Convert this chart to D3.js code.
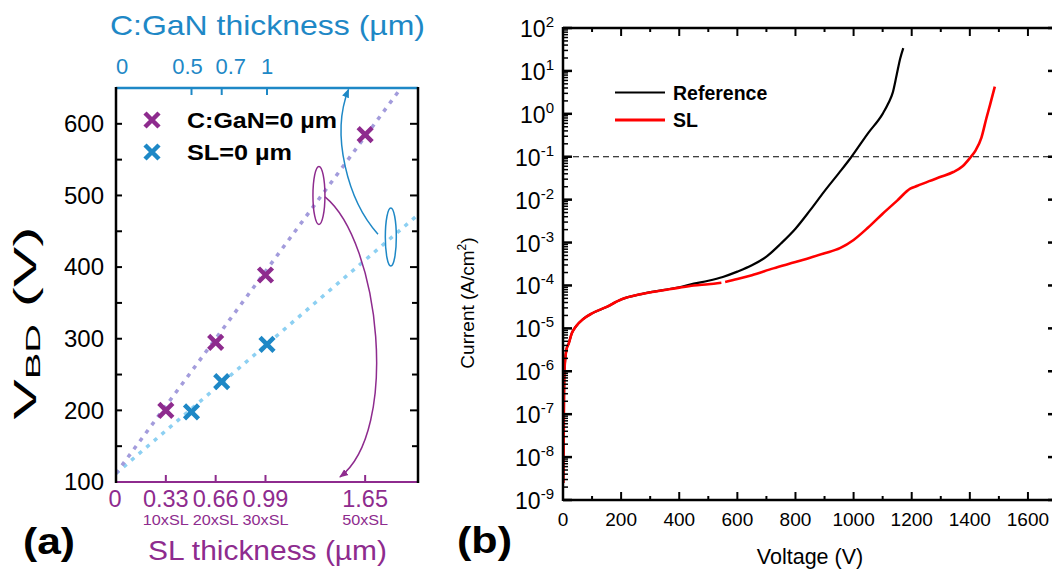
<!DOCTYPE html>
<html><head><meta charset="utf-8">
<script src="https://cdn.jsdelivr.net/npm/d3@7"></script>
<style>
body{margin:0;background:#fff}
svg text{font-family:"Liberation Sans",Arial,sans-serif}
</style>
</head><body>
<svg id="c" width="1052" height="571"></svg>
<script>
// ---------------- Panel (a) data ----------------
const slTicks = [0, 0.33, 0.66, 0.99, 1.65];
const slTickLabels = ["0", "0.33", "0.66", "0.99", "1.65"];
const slSubTicks = [0.33, 0.66, 0.99, 1.65];
const slSubLabels = ["10xSL", "20xSL", "30xSL", "50xSL"];
const cganTicks = [0, 0.5, 0.7, 1];
const cganTickLabels = ["0", "0.5", "0.7", "1"];
const vbdTicks = [100, 200, 300, 400, 500, 600];
const vbdMinorTicks = [150, 250, 350, 450, 550, 650];
// C:GaN = 0 µm series (x = SL thickness)
const cgan0X = [0.33, 0.66, 0.99, 1.65];
const cgan0V = [200, 295, 389, 585];
// SL = 0 µm series (x = C:GaN thickness)
const sl0X = [0.5, 0.7, 1.0];
const sl0V = [198, 240, 292];
// dotted guide lines (endpoints)
const fitCgan0 = [[0, 112], [2, 682]];
const fitSl0 = [[0, 112], [2, 473]];

// ---------------- Panel (b) data ----------------
const voltageTicks = [0, 200, 400, 600, 800, 1000, 1200, 1400, 1600];
const voltageMinor = [100, 300, 500, 700, 900, 1100, 1300, 1500, 1700];
const decadeExps = [-9, -8, -7, -6, -5, -4, -3, -2, -1, 0, 1, 2];
const thresholdCurrent = 0.1;
// Reference device (black)
const refV = [1, 1.5, 2.5, 3.5, 5, 8, 12, 20, 30, 45, 70, 100, 150, 200, 270, 350, 400, 450, 500, 550, 600, 650, 700, 750, 800, 850, 900, 950, 993, 1050, 1100, 1120, 1135, 1148, 1160, 1171];
const refI = [2.5e-9, 4e-9, 3.2e-8, 2.5e-7, 1e-6, 2.0e-6, 3.2e-6, 4.5e-6, 7.6e-6, 1.12e-5, 1.66e-5, 2.24e-5, 3.16e-5, 4.7e-5, 6.3e-5, 7.9e-5, 9.1e-5, 1.1e-4, 1.29e-4, 1.58e-4, 2.1e-4, 2.95e-4, 4.7e-4, 9.5e-4, 2.1e-3, 5.6e-3, 1.58e-2, 4.2e-2, 0.1, 0.355, 1.0, 1.78, 3.16, 7.9, 19, 34];
// SL device (red); null = small gap in the measured trace
const slV = [1, 1.5, 2.5, 3.5, 5, 8, 12, 20, 30, 45, 70, 100, 150, 200, 270, 350, 400, 450, 500, 545, 551, 558, 600, 650, 724, 800, 840, 900, 953, 1000, 1050, 1100, 1150, 1195, 1220, 1260, 1300, 1343, 1375, 1400, 1420, 1440, 1457, 1470, 1486];
const slI = [2.5e-9, 4e-9, 3.2e-8, 2.5e-7, 1e-6, 2.0e-6, 3.2e-6, 4.5e-6, 7.6e-6, 1.12e-5, 1.66e-5, 2.24e-5, 3.16e-5, 4.7e-5, 6.3e-5, 7.8e-5, 8.9e-5, 1.0e-4, 1.07e-4, 1.16e-4, null, 1.2e-4, 1.41e-4, 1.74e-4, 2.5e-4, 3.5e-4, 4.2e-4, 5.6e-4, 7.4e-4, 1.15e-3, 2.24e-3, 4.7e-3, 9.5e-3, 1.8e-2, 2.1e-2, 2.7e-2, 3.4e-2, 4.4e-2, 6.0e-2, 9.3e-2, 0.141, 0.28, 0.79, 1.66, 4.3];

// ---------------- drawing ----------------
const PURPLE = "#8E2B8E", BLUE = "#1E88C6", LAV = "#A39CDC", LBLUE = "#8DD0F2";
const svg = d3.select("#c");
const defs = svg.append("defs");
defs.append("clipPath").attr("id", "clipA").append("rect")
  .attr("x", 116).attr("y", 88).attr("width", 302).attr("height", 394);
defs.append("clipPath").attr("id", "clipB").append("rect")
  .attr("x", 563).attr("y", 20).attr("width", 494).attr("height", 480);
function arrowMarker(id, color) {
  defs.append("marker").attr("id", id).attr("viewBox", "0 0 10 10")
    .attr("refX", 9).attr("refY", 5).attr("markerWidth", 9).attr("markerHeight", 9)
    .attr("markerUnits", "userSpaceOnUse").attr("orient", "auto")
    .append("path").attr("d", "M0,1L10,5L0,9Z").attr("fill", color);
}
arrowMarker("arP", PURPLE);
arrowMarker("arB", BLUE);

// ===== Panel (a) =====
const xa = d3.scaleLinear().domain([0, 2]).range([116, 418]);
const ya = d3.scaleLinear().domain([100, 650]).range([482, 88]);
const ga = svg.append("g");
const lineA = d3.line().x(d => xa(d[0])).y(d => ya(d[1]));

ga.append("path").attr("d", lineA(fitSl0)).attr("fill", "none")
  .attr("stroke", LBLUE).attr("stroke-width", 3.5).attr("stroke-dasharray", "4 6")
  .attr("clip-path", "url(#clipA)");
ga.append("path").attr("d", lineA(fitCgan0)).attr("fill", "none")
  .attr("stroke", LAV).attr("stroke-width", 3.5).attr("stroke-dasharray", "4 6")
  .attr("clip-path", "url(#clipA)");

// annotations (in data units)
ga.append("ellipse").attr("cx", xa(1.344)).attr("cy", ya(500)).attr("rx", 6).attr("ry", 29)
  .attr("fill", "none").attr("stroke", PURPLE).attr("stroke-width", 1.5);
ga.append("ellipse").attr("cx", xa(1.82)).attr("cy", ya(442)).attr("rx", 5.5).attr("ry", 29)
  .attr("fill", "none").attr("stroke", BLUE).attr("stroke-width", 1.5);
ga.append("path").attr("fill", "none").attr("stroke", PURPLE).attr("stroke-width", 1.5)
  .attr("marker-end", "url(#arP)")
  .attr("d", `M${xa(1.384)},${ya(498)} C${xa(1.75)},${ya(435)} ${xa(1.88)},${ya(171)} ${xa(1.483)},${ya(107)}`);
ga.append("path").attr("fill", "none").attr("stroke", BLUE).attr("stroke-width", 1.5)
  .attr("marker-end", "url(#arB)")
  .attr("d", `M${xa(1.735)},${ya(446)} C${xa(1.535)},${ya(493)} ${xa(1.42)},${ya(585)} ${xa(1.54)},${ya(648)}`);

function cross(g, cx, cy, color) {
  g.append("path").attr("d", `M${cx - 7},${cy - 7}L${cx + 7},${cy + 7}M${cx - 7},${cy + 7}L${cx + 7},${cy - 7}`)
    .attr("stroke", color).attr("stroke-width", 4.5).attr("fill", "none");
}
cgan0X.forEach((x, i) => cross(ga, xa(x), ya(cgan0V[i]), PURPLE));
sl0X.forEach((x, i) => cross(ga, xa(x), ya(sl0V[i]), BLUE));

// frame
ga.append("line").attr("x1", 116).attr("x2", 418).attr("y1", 482).attr("y2", 482).attr("stroke", PURPLE).attr("stroke-width", 2);
ga.append("line").attr("x1", 116).attr("x2", 418).attr("y1", 88).attr("y2", 88).attr("stroke", BLUE).attr("stroke-width", 2.5);
ga.append("line").attr("x1", 116).attr("x2", 116).attr("y1", 87).attr("y2", 483).attr("stroke", "#000").attr("stroke-width", 2.5);
ga.append("line").attr("x1", 418).attr("x2", 418).attr("y1", 87).attr("y2", 483).attr("stroke", "#000").attr("stroke-width", 2.5);

// left / right ticks
vbdTicks.concat(vbdMinorTicks).forEach(v => {
  const major = vbdTicks.includes(v);
  if (v > 100 && v < 650) {
    ga.append("line").attr("x1", 116).attr("x2", 116 + 6).attr("y1", ya(v)).attr("y2", ya(v)).attr("stroke", "#000").attr("stroke-width", 2);
    ga.append("line").attr("x1", 418).attr("x2", 418 - (major ? 8 : 6)).attr("y1", ya(v)).attr("y2", ya(v)).attr("stroke", "#000").attr("stroke-width", 2);
  }
});
vbdTicks.forEach(v => {
  ga.append("text").attr("x", 104).attr("y", ya(v)).attr("dy", "0.35em").attr("text-anchor", "end")
    .attr("font-size", 24).attr("fill", "#000").text(v);
});
// bottom SL axis
slTicks.forEach((v, i) => {
  if (v > 0) ga.append("line").attr("x1", xa(v)).attr("x2", xa(v)).attr("y1", 482).attr("y2", 475).attr("stroke", PURPLE).attr("stroke-width", 2);
  ga.append("text").attr("x", xa(v) - (v === 0 ? 1 : 0)).attr("y", 506.5).attr("text-anchor", "middle")
    .attr("font-size", 23.5).attr("fill", PURPLE).text(slTickLabels[i]);
});
slSubTicks.forEach((v, i) => {
  ga.append("text").attr("x", xa(v)).attr("y", 525).attr("text-anchor", "middle")
    .attr("font-size", 15).attr("fill", PURPLE)
    .attr("textLength", 46).attr("lengthAdjust", "spacingAndGlyphs").text(slSubLabels[i]);
});
ga.append("text").attr("x", 267.5).attr("y", 560).attr("text-anchor", "middle")
  .attr("font-size", 27.5).attr("fill", PURPLE)
  .attr("textLength", 239).attr("lengthAdjust", "spacingAndGlyphs").text("SL thickness (µm)");
// top C:GaN axis (labels sit slightly off their ticks, as in the reference)
const cganLabelShift = [6, -4, 9, 0];
cganTicks.forEach((v, i) => {
  if (v > 0) ga.append("line").attr("x1", xa(v)).attr("x2", xa(v)).attr("y1", 88).attr("y2", 95).attr("stroke", BLUE).attr("stroke-width", 2);
  ga.append("text").attr("x", xa(v) + cganLabelShift[i]).attr("y", 74).attr("text-anchor", "middle")
    .attr("font-size", 22).attr("fill", BLUE).text(cganTickLabels[i]);
});
ga.append("text").attr("x", 267.5).attr("y", 35).attr("text-anchor", "middle")
  .attr("font-size", 28).attr("fill", BLUE)
  .attr("textLength", 315).attr("lengthAdjust", "spacingAndGlyphs").text("C:GaN thickness (µm)");
// y label
const yl = ga.append("text").attr("transform", "translate(36,323) rotate(-90)")
  .attr("text-anchor", "middle").attr("font-size", 32).attr("fill", "#000")
  .attr("textLength", 193).attr("lengthAdjust", "spacingAndGlyphs");
yl.append("tspan").text("V");
yl.append("tspan").attr("font-size", 21).attr("dy", 4).text("BD");
yl.append("tspan").attr("dy", -4).text(" (V)");
// legend a
cross(ga, 152, 120, PURPLE);
cross(ga, 152, 152, BLUE);
ga.append("text").attr("x", 187).attr("y", 128).attr("font-size", 22).attr("font-weight", "bold")
  .attr("textLength", 150).attr("lengthAdjust", "spacingAndGlyphs").text("C:GaN=0 µm");
ga.append("text").attr("x", 187).attr("y", 159.5).attr("font-size", 22).attr("font-weight", "bold")
  .attr("textLength", 105).attr("lengthAdjust", "spacingAndGlyphs").text("SL=0 µm");
ga.append("text").attr("x", 23).attr("y", 554).attr("font-size", 37).attr("font-weight", "bold")
  .attr("font-family", "'Open Sans','Noto Sans',sans-serif")
  .attr("textLength", 52).attr("lengthAdjust", "spacingAndGlyphs").text("(a)");

// ===== Panel (b) =====
const xb = d3.scaleLinear().domain([0, 1700]).range([563, 1057]);
const yb = d3.scaleLog().domain([1e-9, 1e2]).range([500, 28]);
const gb = svg.append("g");

gb.append("line").attr("x1", 563).attr("x2", 1057).attr("y1", yb(thresholdCurrent)).attr("y2", yb(thresholdCurrent))
  .attr("stroke", "#000").attr("stroke-width", 1.1).attr("stroke-dasharray", "6 4");

const refData = refV.map((v, i) => ({ v, i: refI[i] }));
const slData = slV.map((v, i) => ({ v, i: slI[i] }));
const lineB = d3.line().defined(d => d.i != null).x(d => xb(d.v)).y(d => yb(d.i)).curve(d3.curveMonotoneX);
gb.append("path").attr("d", lineB(refData)).attr("fill", "none").attr("stroke", "#000").attr("stroke-width", 2.2).attr("clip-path", "url(#clipB)");
gb.append("path").attr("d", lineB(slData)).attr("fill", "none").attr("stroke", "#ff0000").attr("stroke-width", 2.6).attr("clip-path", "url(#clipB)");

// frame
gb.append("line").attr("x1", 563).attr("x2", 1057).attr("y1", 500).attr("y2", 500).attr("stroke", "#000").attr("stroke-width", 2.5);
gb.append("line").attr("x1", 563).attr("x2", 1057).attr("y1", 28).attr("y2", 28).attr("stroke", "#000").attr("stroke-width", 2.5);
gb.append("line").attr("x1", 563).attr("x2", 563).attr("y1", 27).attr("y2", 501).attr("stroke", "#000").attr("stroke-width", 2.5);
gb.append("line").attr("x1", 1057).attr("x2", 1057).attr("y1", 27).attr("y2", 501).attr("stroke", "#000").attr("stroke-width", 2.5);

// x ticks
voltageTicks.forEach(v => {
  if (v > 0) {
    gb.append("line").attr("x1", xb(v)).attr("x2", xb(v)).attr("y1", 500).attr("y2", 492).attr("stroke", "#000").attr("stroke-width", 2);
    gb.append("line").attr("x1", xb(v)).attr("x2", xb(v)).attr("y1", 28).attr("y2", 36).attr("stroke", "#000").attr("stroke-width", 2);
  }
  gb.append("text").attr("x", xb(v)).attr("y", 526).attr("text-anchor", "middle").attr("font-size", 19).text(v);
});
voltageMinor.forEach(v => {
  gb.append("line").attr("x1", xb(v)).attr("x2", xb(v)).attr("y1", 500).attr("y2", 496).attr("stroke", "#000").attr("stroke-width", 2);
  gb.append("line").attr("x1", xb(v)).attr("x2", xb(v)).attr("y1", 28).attr("y2", 32).attr("stroke", "#000").attr("stroke-width", 2);
});
// y ticks
decadeExps.forEach(e => {
  const y = yb(Math.pow(10, e));
  gb.append("line").attr("x1", 563).attr("x2", 572).attr("y1", y).attr("y2", y).attr("stroke", "#000").attr("stroke-width", 2.5);
  gb.append("line").attr("x1", 1057).attr("x2", 1048).attr("y1", y).attr("y2", y).attr("stroke", "#000").attr("stroke-width", 2.5);
  if (e < 2) {
    for (let k = 2; k <= 9; k++) {
      const ym = yb(k * Math.pow(10, e));
      gb.append("line").attr("x1", 563).attr("x2", 568).attr("y1", ym).attr("y2", ym).attr("stroke", "#000").attr("stroke-width", 1.5);
    }
  }
  const t = gb.append("text").attr("x", 554).attr("y", y + 9).attr("text-anchor", "end").attr("font-size", 23);
  t.append("tspan").text("10");
  t.append("tspan").attr("font-size", 15).attr("dy", -10).text(String(e));
});
gb.append("text").attr("x", 810).attr("y", 564).attr("text-anchor", "middle").attr("font-size", 21.5).text("Voltage (V)");
const cl = gb.append("text").attr("transform", "translate(474,303) rotate(-90)").attr("text-anchor", "middle").attr("font-size", 19);
cl.append("tspan").text("Current (A/cm");
cl.append("tspan").attr("font-size", 12).attr("dy", -8).text("2");
cl.append("tspan").attr("dy", 8).text(")");

// legend b
gb.append("line").attr("x1", 615).attr("x2", 665).attr("y1", 92.5).attr("y2", 92.5).attr("stroke", "#000").attr("stroke-width", 2.2);
gb.append("line").attr("x1", 615).attr("x2", 665).attr("y1", 120).attr("y2", 120).attr("stroke", "#ff0000").attr("stroke-width", 3);
gb.append("text").attr("x", 673).attr("y", 100).attr("font-size", 19.5).attr("font-weight", "bold").text("Reference");
gb.append("text").attr("x", 673).attr("y", 127).attr("font-size", 19.5).attr("font-weight", "bold").text("SL");
gb.append("text").attr("x", 457).attr("y", 553).attr("font-size", 37).attr("font-weight", "bold")
  .attr("font-family", "'Open Sans','Noto Sans',sans-serif")
  .attr("textLength", 55).attr("lengthAdjust", "spacingAndGlyphs").text("(b)");
</script>
</body></html>
